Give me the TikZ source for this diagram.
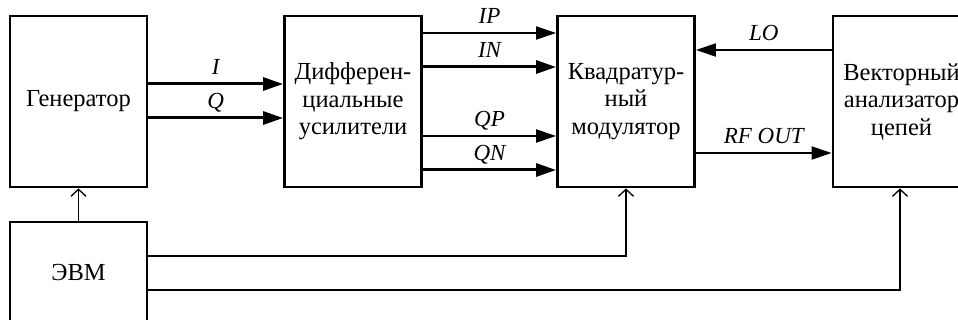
\documentclass[tikz,border=0pt]{standalone}
\usepackage{fontspec}
\setmainfont{Liberation Serif}
\usetikzlibrary{arrows.meta}
\begin{document}
\begin{tikzpicture}[x=1pt,y=-1pt,
  blk/.style={draw, line width=2.8pt, minimum width=137pt, minimum height=171pt,
    align=center, inner sep=0pt, font=\fontsize{24.5}{27.5}\selectfont},
  evmblk/.style={draw, line width=1.3pt, minimum width=137pt, minimum height=102pt,
    inner sep=0pt, font=\fontsize{24.5}{27.5}\selectfont},
  thickarr/.style={line width=3pt, -{Triangle[length=20pt,width=13pt]}},
  thinarr/.style={line width=2pt, -{Triangle[length=20pt,width=13pt]}},
  ctl/.style={line width=1.3pt, -{Straight Barb[length=7pt,width=15pt,line width=1.3pt]}},
  lbl/.style={anchor=base, yshift=9pt, inner sep=0pt, font=\fontsize{23}{25}\selectfont\itshape}]
\useasboundingbox (0,0) rectangle (958,320);
\clip (0,0) rectangle (958,320);

\node[blk] (gen) at (78.5,101.5) {Генератор};
\node[blk] (diff) at (353,101.5) {Дифферен-\\циальные\\усилители};
\node[blk] (quad) at (626,101.5) {Квадратур-\\ный\\модулятор};
\node[blk] (vna) at (901.5,101.5) {Векторный\\анализатор\\цепей};
\node[evmblk] (evm) at (78.5,273) {ЭВМ};

\draw[thickarr] ([yshift=17.5pt]gen.east) -- ([yshift=17.5pt]gen.east -| diff.west) node[lbl,midway] {I};
\draw[thickarr] ([yshift=-16.5pt]gen.east) -- ([yshift=-16.5pt]gen.east -| diff.west) node[lbl,midway] {Q};

\draw[thinarr] ([yshift=68.5pt]diff.east) -- ([yshift=68.5pt]quad.west) node[lbl,midway] {IP};
\draw[thickarr] ([yshift=34.5pt]diff.east) -- ([yshift=34.5pt]quad.west) node[lbl,midway] {IN};
\draw[thinarr] ([yshift=-34.5pt]diff.east) -- ([yshift=-34.5pt]quad.west) node[lbl,midway] {QP};
\draw[thickarr] ([yshift=-68.5pt]diff.east) -- ([yshift=-68.5pt]quad.west) node[lbl,midway] {QN};

\draw[thinarr] ([yshift=51.5pt]vna.west) -- ([yshift=51.5pt]quad.east) node[lbl,midway] {LO};
\draw[thinarr] ([yshift=-51.5pt]quad.east) -- ([yshift=-51.5pt]vna.west) node[lbl,midway] {RF OUT};

\draw[ctl] (evm.north) -- (gen.south);
\draw[ctl] ([yshift=17pt]evm.east) -| (quad.south);
\draw[ctl] ([yshift=-17pt]evm.east) -| ([xshift=-1.5pt]vna.south);
\end{tikzpicture}
\end{document}
